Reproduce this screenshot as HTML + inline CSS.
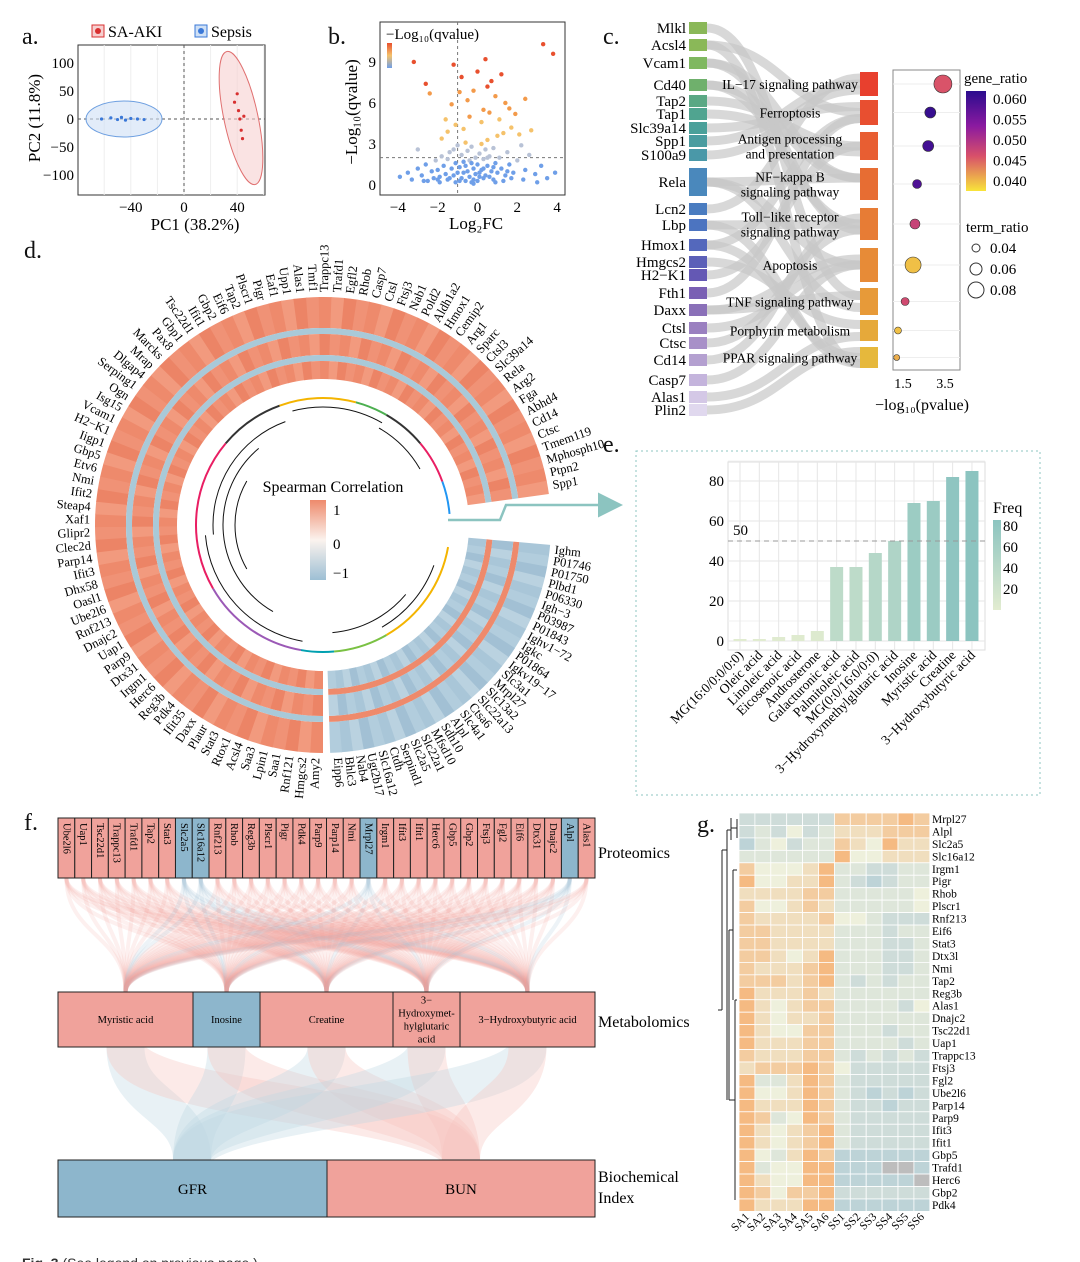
<!DOCTYPE html>
<html><head><meta charset="utf-8"><style>
html,body{margin:0;padding:0;background:#fff;}
svg{display:block;font-family:"Liberation Serif",serif;}
</style></head><body>
<svg id="fig" width="1080" height="1262" viewBox="0 0 1080 1262" xmlns="http://www.w3.org/2000/svg">
<defs>
<linearGradient id="gPlasma" x1="0" y1="0" x2="0" y2="1"><stop offset="0" stop-color="#2b0c8e"/><stop offset="0.35" stop-color="#8b1aa0"/><stop offset="0.65" stop-color="#d8506a"/><stop offset="1" stop-color="#f8e43a"/></linearGradient>
<linearGradient id="gSpear" x1="0" y1="0" x2="0" y2="1"><stop offset="0" stop-color="#ee8a6c"/><stop offset="0.5" stop-color="#fbf3ee"/><stop offset="1" stop-color="#9dbfd4"/></linearGradient>
<linearGradient id="gFreq" x1="0" y1="0" x2="0" y2="1"><stop offset="0" stop-color="#8cc4c0"/><stop offset="1" stop-color="#e2ecd0"/></linearGradient>
<linearGradient id="gQ" x1="0" y1="0" x2="0" y2="1"><stop offset="0" stop-color="#e8502e"/><stop offset="0.5" stop-color="#f5c26b"/><stop offset="1" stop-color="#6f9fe8"/></linearGradient>
<marker id="arrowHead" markerWidth="10" markerHeight="10" refX="8" refY="5" orient="auto"><path d="M0,0 L10,5 L0,10 z" fill="#8cc4c0"/></marker>
</defs>
<g font-size="24" fill="#111">
<text x="22" y="44">a.</text>
<text x="328" y="44">b.</text>
<text x="603" y="44">c.</text>
<text x="24" y="258">d.</text>
<text x="603" y="452">e.</text>
<text x="24" y="830">f.</text>
<text x="697" y="832">g.</text>
</g>
<g id="pa"></g>
<g id="pb"></g>
<g id="pc"></g>
<g id="pd"></g>
<g id="pe"></g>
<g id="pf"></g>
<g id="pg"></g>
<text x="22" y="1268" font-family="Liberation Sans, sans-serif" font-size="14" fill="#333"><tspan font-weight="bold">Fig. 3</tspan> (See legend on previous page.)</text>
</svg>
<script>
const NS='http://www.w3.org/2000/svg';
function mk(tag,parent){const e=document.createElementNS(NS,tag);parent.appendChild(e);return e;}
function at(e,o){for(const k in o)e.setAttribute(k,o[k]);return e;}
function txt(parent,x,y,s,o){const t=mk('text',parent);at(t,Object.assign({x:x,y:y},o||{}));t.textContent=s;return t;}
function lerpC(c1,c2,t){const a=[1,3,5].map(i=>parseInt(c1.substr(i,2),16)),b=[1,3,5].map(i=>parseInt(c2.substr(i,2),16));return 'rgb('+a.map((v,i)=>Math.round(v+(b[i]-v)*t)).join(',')+')';}

/* ===== Panel a: PCA data ===== */
const sepsisPC1=[-62,-55,-50,-47,-44,-40,-35,-30];
const sepsisPC2=[0,2,-1,3,-2,1,0,-1];
const akiPC1=[38,40,41,42,43,44,45];
const akiPC2=[30,45,15,0,-20,-35,5];
const pcaXTicks=[-40,0,40];
const pcaYTicks=[100,50,0,-50,-100];
/* ===== Panel b: volcano data ===== */
const logFC=[-3.9,-3.5,-3.3,-3.0,-2.8,-2.6,-2.5,-2.3,-2.2,-2.1,
-2.0,-1.9,-1.8,-1.7,-1.6,-1.5,-1.5,-1.4,-1.3,-1.2,
-1.2,-1.1,-1.0,-1.0,-0.9,-0.8,-0.8,-0.7,-0.6,-0.6,
-0.5,-0.5,-0.4,-0.4,-0.3,-0.3,-0.2,-0.2,-0.1,-0.1,
0,0,0.1,0.1,0.2,0.2,0.3,0.3,0.4,0.4,
0.5,0.5,0.6,0.6,0.7,0.8,0.8,0.9,1.0,1.0,
1.1,1.2,1.3,1.4,1.5,1.6,1.7,1.8,2.0,2.2,
2.4,2.6,2.9,3.2,3.5,3.9,-1.8,-1.5,-1.1,-0.7,
-0.4,0.2,0.6,1.1,1.6,2.1,-3.0,-1.3,-0.5,0.3,
0.9,1.4,3.3,3.8,-2.6,-0.9,0.5,1.2,-1.2,-0.2,
0.7,0.4,-0.8,1.9,-2.4,2.7,-3.2,-1.6,0.0,2.4,
-1.9,-1.4,-0.9,-0.6,-0.3,0.1,0.5,0.8,1.3,1.7,
-2.7,-2.0,-1.1,-0.7,-0.2,0.3,0.9,1.5,2.3,3.0];
const negLogQ=[0.6,0.9,0.4,1.2,0.7,1.5,0.3,1.0,0.5,1.8,
1.1,0.6,2.1,1.4,0.8,1.9,0.4,2.4,1.2,0.7,
2.6,1.6,0.9,2.9,1.3,0.5,2.2,1.7,0.3,3.1,
1.0,2.5,0.6,1.8,0.2,2.8,1.2,0.4,2.0,0.8,
1.5,0.3,2.3,0.9,1.1,3.0,0.5,1.9,2.6,0.7,
1.4,3.3,0.6,2.1,1.0,2.7,0.4,1.6,3.6,0.9,
2.0,1.2,3.8,0.7,2.4,1.5,4.2,0.9,1.8,2.9,
1.1,2.2,0.8,1.4,0.5,0.9,3.4,3.9,4.4,4.1,
5.0,4.6,5.3,4.8,5.6,3.7,2.6,5.9,6.2,5.5,
6.5,6.0,10.3,9.6,7.4,6.8,7.2,8.1,8.8,6.9,
7.6,9.2,7.9,5.2,6.7,4.0,9.0,4.8,8.3,6.3,
0.2,0.5,0.3,1.4,1.6,0.6,2.0,1.3,0.3,0.5,
0.3,0.4,0.2,0.9,0.1,1.2,0.2,1.0,0.4,0.2];
const volXTicks=[-4,-2,0,2,4];
const volYTicks=[0,3,6,9];
/* ===== Panel c data ===== */
const sankeyGenes=['Mlkl','Acsl4','Vcam1','Cd40','Tap2','Tap1','Slc39a14','Spp1','S100a9','Rela','Lcn2','Lbp','Hmox1','Hmgcs2','H2−K1','Fth1','Daxx','Ctsl','Ctsc','Cd14','Casp7','Alas1','Plin2'];
const geneYc=[28,45,63,85,101,114,128,141,155,182,209,225,245,262,275,293,310,328,343,360,380,397,410];
const pathways=['IL−17 signaling pathway','Ferroptosis','Antigen processing|and presentation','NF−kappa B|signaling pathway','Toll−like receptor|signaling pathway','Apoptosis','TNF signaling pathway','Porphyrin metabolism','PPAR signaling pathway'];
const pathTop=[72,100,132,168,208,248,288,320,347];
const pathBot=[96,125,160,200,240,282,315,341,368];
const linkGene=[0,1,2,3,4,5,6,7,8,9,9,9,10,11,12,13,14,15,16,17,18,19,20,21,22,3,11,2,12,1,16];
const linkPath=[6,1,4,3,2,2,1,0,0,3,5,6,0,4,1,7,2,1,5,5,4,4,5,7,8,4,8,3,8,8,6];
const enrichLogP=[3.4,2.8,2.7,2.17,2.07,1.98,1.6,1.26,1.2];
const geneRatio=[0.046,0.061,0.060,0.059,0.048,0.040,0.047,0.040,0.041];
const termRatio=[0.09,0.055,0.055,0.045,0.05,0.08,0.04,0.035,0.03];
/* ===== Panel d data ===== */
const circOrangeGenes=['Amy2','Hmgcs2','Rnf121','Saa1','Lpin1','Saa3','Acsl4','Rtox1','Stat3','Plaur','Daxx','Ifit35','Pdk4','Reg3b','Herc6','Irgm1','Dtx31','Parp9','Uap1','Dnajc2','Rnf213','Ube2l6','Oasl1','Dhx58','Ifit3','Parp14','Clec2d','Glipr2','Xaf1','Steap4','Ifit2','Nmi','Etv6','Gbp5','Iigp1','H2−K1','Vcam1','Isg15','Ogn','Serping1','Dlgap4','Mrap','Marcks','Pax8','Gbp1','Tsc22d1','Ifit1','Gbp2','Eif6','Tap2','Plscr1','Pigr','Eaf1','Upp1','Alas1','Tmf1','Trappc13','Trafd1','Egfl2','Rhob','Casp7','Ctsl','Ftsj3','Nab1','Pold2','Aldh1a2','Hmox1','Cemip2','Arg1','Sparc','Ctsl3','Slc39a14','Rela','Arg2','Fga','Abhd4','Cd14','Ctsc','Tmem119','Mphosph10','Ptpn2','Spp1'];
const circBlueGenes=['Ighm','P01746','P01750','Plbd1','P06330','Igh−3','P03987','P01843','Ighv1−72','Igkc','P01864','Igkv19−17','Slc3a1','Mrpl27','Slc13a2','Slc22a13','Ctsa6','Slc4a1','Alpl','Sdh10','Mfsd10','Slc22a1','Slc2a5','Serpind1','Ctdh','Slc16a12','Ugt2b17','Nab4','Bhlc3','Eipp6'];
/* ===== Panel e data ===== */
const metabolites=['MG(16:0/0:0/0:0)','Oleic acid','Linoleic acid','Eicosenoic acid','Androsterone','Galacturonic acid','Palmitoleic acid','MG(0:0/16:0/0:0)','3−Hydroxymethylglutaric acid','Inosine','Myristic acid','Creatine','3−Hydroxybutyric acid'];
const freq=[1,1,2,3,5,37,37,44,50,69,70,82,85];
const freqTicks=[0,20,40,60,80];
/* ===== Panel f data ===== */
const proteins=['Ube2l6','Uap1','Tsc22d1','Trappc13','Trafd1','Tap2','Stat3','Slc2a5','Slc16a12','Rnf213','Rhob','Reg3b','Plscr1','Pigr','Pdk4','Parp9','Parp14','Nmi','Mrpl27','Irgm1','Ifit3','Ifit1','Herc6','Gbp5','Gbp2','Ftsj3','Fgl2','Eif6','Dtx31','Dnajc2','Alpl','Alas1'];
const proteinDown=[0,0,0,0,0,0,0,1,1,0,0,0,0,0,0,0,0,0,1,0,0,0,0,0,0,0,0,0,0,0,1,0];
const metabNames=['Myristic acid','Inosine','Creatine','3−|Hydroxymet-|hylglutaric|acid','3−Hydroxybutyric acid'];
const metabX0=[58,193,260,393,460];
const metabX1=[193,260,393,460,595];
const metabDown=[0,1,0,0,0];
/* ===== Panel g data ===== */
const hmGenes=['Mrpl27','Alpl','Slc2a5','Slc16a12','Irgm1','Pigr','Rhob','Plscr1','Rnf213','Eif6','Stat3','Dtx3l','Nmi','Tap2','Reg3b','Alas1','Dnajc2','Tsc22d1','Uap1','Trappc13','Ftsj3','Fgl2','Ube2l6','Parp14','Parp9','Ifit3','Ifit1','Gbp5','Trafd1','Herc6','Gbp2','Pdk4'];
const hmSamples=['SA1','SA2','SA3','SA4','SA5','SA6','SS1','SS2','SS3','SS4','SS5','SS6'];
const hmValues=['333333777787','343534666777','245344765866','444444855666','755568443344','855668432344','666677444445','755676444445','766667554333','776666444344','776666444334','776568444334','766678444334','777678434344','866676444444','865677444435','865667444444','865577444344','866677444434','766677434343','677787533333','844687433333','855687432323','866687433233','874587433333','865678433333','865678433333','854687222222','845588222xx2','86558822222x','875778333333','866688222222'];

const svg=document.getElementById('fig');

/* ---------- Panel a ---------- */
(function(){
const g=document.getElementById('pa');
const xa=v=>184+1.33*v, ya=v=>119-0.56*v;
const box=mk('rect',g);at(box,{x:78,y:45,width:187,height:150,fill:'#fff',stroke:'#333','stroke-width':1});


for(let v=-60;v<=60;v+=20){const l=mk('line',g);at(l,{x1:xa(v),x2:xa(v),y1:45,y2:195,stroke:'#eee'});

}
const d1=mk('line',g);at(d1,{x1:xa(0),x2:xa(0),y1:45,y2:195,stroke:'#555','stroke-dasharray':'3,3'});


const d2=mk('line',g);at(d2,{x1:78,x2:265,y1:ya(0),y2:ya(0),stroke:'#555','stroke-dasharray':'3,3'});


const e1=mk('ellipse',g);at(e1,{cx:124,cy:119,rx:38,ry:18,fill:'#cfe0f5','fill-opacity':0.6,stroke:'#6d9fe0'});


const e2=mk('ellipse',g);at(e2,{cx:241,cy:118,rx:17,ry:68,fill:'#f6d0d0','fill-opacity':0.6,stroke:'#e07070',transform:'rotate(-12 241 118)'});


sepsisPC1.forEach((v,i)=>{const c=mk('circle',g);at(c,{cx:xa(v),cy:ya(sepsisPC2[i]),r:1.6,fill:'#3a78d8'});

});
akiPC1.forEach((v,i)=>{const c=mk('circle',g);at(c,{cx:xa(v),cy:ya(akiPC2[i]),r:1.6,fill:'#d83030'});

});
pcaXTicks.forEach(v=>{const t=txt(g,xa(v),212,String(v).replace('-','−'),{'font-size':15,'text-anchor':'middle'});

});
pcaYTicks.forEach(v=>{const t=txt(g,74,ya(v)+5,String(v).replace('-','−'),{'font-size':15,'text-anchor':'end'});

});
const xt=txt(g,195,230,'PC1 (38.2%)',{'font-size':17,'text-anchor':'middle'});


const yt=txt(g,0,0,'PC2 (11.8%)',{'font-size':17,'text-anchor':'middle',transform:'translate(40 118) rotate(-90)'});


[['SA-AKI',92,'#d83030','#f6d0d0'],['Sepsis',195,'#3a78d8','#cfe0f5']].forEach(a=>{
const r=mk('rect',g);at(r,{x:a[1],y:25,width:12,height:12,fill:a[3],stroke:a[2]});


const c=mk('circle',g);at(c,{cx:a[1]+6,cy:31,r:3,fill:a[2]});


const t=txt(g,a[1]+16,37,a[0],{'font-size':16});

});
})();

/* ---------- Panel b ---------- */
(function(){
const g=document.getElementById('pb');
const xb=v=>477.5+19.9*v, yb=v=>185-13.67*v;
const box=mk('rect',g);at(box,{x:380,y:22,width:185,height:173,fill:'#fff',stroke:'#333'});


const h=mk('line',g);at(h,{x1:380,x2:565,y1:yb(2),y2:yb(2),stroke:'#777','stroke-dasharray':'3,3'});


const v1=mk('line',g);at(v1,{x1:xb(-1),x2:xb(-1),y1:22,y2:195,stroke:'#777','stroke-dasharray':'3,3'});


const col=q=>q<1.8?'#6f9fe8':q<3?'#b8c2d6':q<5?'#f5c26b':q<7?'#f39a4a':'#e8502e';
logFC.forEach((v,i)=>{const c=mk('circle',g);at(c,{cx:xb(v),cy:yb(negLogQ[i]),r:2.2,fill:col(negLogQ[i])});

});
volXTicks.forEach(v=>{const t=txt(g,xb(v),212,String(v).replace('-','−'),{'font-size':15,'text-anchor':'middle'});

});
volYTicks.forEach(v=>{const t=txt(g,376,yb(v)+5,String(v),{'font-size':15,'text-anchor':'end'});

});
const xt=txt(g,476,229,'Log₂FC',{'font-size':17,'text-anchor':'middle'});


const yt=txt(g,0,0,'−Log₁₀(qvalue)',{'font-size':17,'text-anchor':'middle',transform:'translate(357 112) rotate(-90)'});


const lt=txt(g,386,39,'−Log₁₀(qvalue)',{'font-size':15});


const lg=mk('rect',g);at(lg,{x:387,y:43,width:5,height:25,fill:'url(#gQ)'});


})();

/* ---------- Panel c ---------- */
(function(){
const g=document.getElementById('pc');
const geneCols=['#8ab858','#8ab858','#7fb860','#6fb06c','#5aa884','#50a490','#4aa09a','#4a9ca0','#4a98a8','#4a88bc','#4a7cc0','#4c74c0','#5468bc','#5c60b8','#6458b4','#7a60b4','#8a70b8','#9a80c0','#a890c8','#b4a0d0','#c4b4dc','#d4c8e6','#e0d8ee'];
linkGene.forEach((gi,k)=>{const p=linkPath[k];const y1=geneYc[gi],y2=(pathTop[p]+pathBot[p])/2+((k%3)-1)*6;
const pa=mk('path',g);at(pa,{d:`M707,${y1} C780,${y1} 790,${y2} 860,${y2}`,stroke:'#c8c8c8','stroke-width':9,fill:'none','stroke-opacity':0.7});

});
sankeyGenes.forEach((n,i)=>{const hh=n==='Rela'?14:6;
const r=mk('rect',g);at(r,{x:689,y:geneYc[i]-hh,width:18,height:hh*2,fill:geneCols[i]});


const t=txt(g,686,geneYc[i]+5,n,{'font-size':15,'text-anchor':'end'});

});
pathways.forEach((n,i)=>{const c=lerpC('#e8402e','#e6b83c',i/8);
const r=mk('rect',g);at(r,{x:860,y:pathTop[i],width:18,height:pathBot[i]-pathTop[i],fill:c});


const parts=n.split('|');const yc=(pathTop[i]+pathBot[i])/2;
parts.forEach((s,j)=>{const t=txt(g,790,yc+5+(j-(parts.length-1)/2)*15,s,{'font-size':13.5,'text-anchor':'middle'});

});});
const xc=v=>903+21*(v-1.5);
const box=mk('rect',g);at(box,{x:893,y:70,width:67,height:300,fill:'#fff',stroke:'#888'});


const dotY=pathTop.map((t,i)=>(t+pathBot[i])/2);
dotY.forEach(y=>{const l=mk('line',g);at(l,{x1:893,x2:960,y1:y,y2:y,stroke:'#eee'});

});
const pl=t=>t<0.33?lerpC('#2b0c8e','#8b1aa0',t/0.33):t<0.66?lerpC('#8b1aa0','#d8506a',(t-0.33)/0.33):lerpC('#d8506a','#f8e43a',(t-0.66)/0.34);
enrichLogP.forEach((v,i)=>{const c=mk('circle',g);at(c,{cx:xc(v),cy:dotY[i],r:termRatio[i]*100,fill:pl(1-(geneRatio[i]-0.038)/0.024),stroke:'#333','stroke-width':0.6});

});
[1.5,3.5].forEach(v=>{const t=txt(g,xc(v),388,String(v),{'font-size':14,'text-anchor':'middle'});

});
const xt=txt(g,922,410,'−log₁₀(pvalue)',{'font-size':16,'text-anchor':'middle'});


const lt=txt(g,964,83,'gene_ratio',{'font-size':15});


const gr=mk('rect',g);at(gr,{x:966,y:91,width:20,height:100,fill:'url(#gPlasma)'});


['0.060','0.055','0.050','0.045','0.040'].forEach((s,i)=>{const t=txt(g,993,104+i*20.5,s,{'font-size':15});

});
const tt=txt(g,966,232,'term_ratio',{'font-size':15});


[['0.04',4],['0.06',6],['0.08',8]].forEach((a,i)=>{const c=mk('circle',g);at(c,{cx:976,cy:248+i*21,r:a[1],fill:'#fff',stroke:'#333'});


const t=txt(g,990,253+i*21,a[0],{'font-size':15});

});
})();

/* ---------- Panel d ---------- */
(function(){
const g=document.getElementById('pd');
const cx=323,cy=525;
const P=(r,a)=>[cx+r*Math.cos(a*Math.PI/180),cy+r*Math.sin(a*Math.PI/180)];
function sector(r1,r2,a1,a2){const [x1,y1]=P(r2,a1),[x2,y2]=P(r2,a2),[x3,y3]=P(r1,a2),[x4,y4]=P(r1,a1);const lg=(a2-a1)>180?1:0;
return `M${x1},${y1} A${r2},${r2} 0 ${lg} 1 ${x2},${y2} L${x3},${y3} A${r1},${r1} 0 ${lg} 0 ${x4},${y4} Z`;}
const rings=[[197,228],[191,197],[170,191],[164,170],[146,164]];
const oA0=90,oA1=352,bA0=5,bA1=88;
const nO=circOrangeGenes.length,nB=circBlueGenes.length;
const shadeO=['#ee8a6c','#f09276','#ec8466','#f29a7e'],shadeB=['#a9c6d8','#b2cddd','#a2c0d4','#bad2e0'];
rings.forEach((rr,ri)=>{const sep=ri%2===1;
for(let i=0;i<nO;i++){const a1=oA0+(oA1-oA0)*i/nO,a2=oA0+(oA1-oA0)*(i+1)/nO;
const p=mk('path',g);at(p,{d:sector(rr[0],rr[1],a1,a2+0.2),fill:sep?'#a9c9d8':shadeO[(i*7+ri*3)%4]});

}
for(let i=0;i<nB;i++){const a1=bA0+(bA1-bA0)*i/nB,a2=bA0+(bA1-bA0)*(i+1)/nB;
const p=mk('path',g);at(p,{d:sector(rr[0],rr[1],a1,a2+0.2),fill:sep?'#ee8a6c':shadeB[(i*5+ri*3)%4]});

}});
circOrangeGenes.forEach((n,i)=>{const a=oA0+(oA1-oA0)*(i+0.5)/nO;
const [x,y]=P(233,a);const right=Math.cos(a*Math.PI/180)>0;
const t=txt(g,x,y,n,{'font-size':12.5,'text-anchor':right?'start':'end','dominant-baseline':'middle',transform:`rotate(${right?a:a+180} ${x} ${y})`});

});
circBlueGenes.forEach((n,i)=>{const a=bA0+(bA1-bA0)*(i+0.5)/nB;
const [x,y]=P(233,a);
const t=txt(g,x,y,n,{'font-size':12.5,'text-anchor':'start','dominant-baseline':'middle',transform:`rotate(${a} ${x} ${y})`});

});
const cols=['#f4b400','#7ac143','#00a0b0','#9b59b6','#e91e63','#333','#f4b400','#4caf50','#333','#e91e63','#2196f3'];
const arcsCol=[[10,60],[60,85],[85,100],[100,150],[150,220],[220,250],[250,285],[285,300],[300,320],[320,340],[340,355]];
arcsCol.forEach((a,i)=>{const [x1,y1]=P(127,a[0]),[x2,y2]=P(127,a[1]);const p=mk('path',g);
at(p,{d:`M${x1},${y1} A127,127 0 0 1 ${x2},${y2}`,stroke:cols[i],'stroke-width':2,fill:'none'});

});
[[118,100,175],[110,175,250],[100,120,230],[88,150,210],[118,255,300],[112,300,330],[118,20,60],[108,40,85]].forEach(a=>{
const [x1,y1]=P(a[0],a[1]),[x2,y2]=P(a[0],a[2]);const p=mk('path',g);
at(p,{d:`M${x1},${y1} A${a[0]},${a[0]} 0 0 1 ${x2},${y2}`,stroke:'#111','stroke-width':1,fill:'none'});

});
const lt=txt(g,333,492,'Spearman Correlation',{'font-size':16,'text-anchor':'middle'});


const lb=mk('rect',g);at(lb,{x:310,y:500,width:16,height:80,fill:'url(#gSpear)'});


[['1',515],['0',549],['−1',578]].forEach(a=>{const t=txt(g,333,a[1],a[0],{'font-size':15});

});
const ar=mk('path',g);at(ar,{d:'M448,520 L500,520 L506,505 L618,505',stroke:'#8cc4c0','stroke-width':2.5,fill:'none','marker-end':'url(#arrowHead)'});


})();

/* ---------- Panel e ---------- */
(function(){
const g=document.getElementById('pe');
const fb=mk('rect',g);at(fb,{x:636,y:451,width:404,height:344,fill:'none',stroke:'#8cc4c0','stroke-dasharray':'2,3'});


const xe=i=>740+19.33*i, ye=v=>641-2*v;
const pb=mk('rect',g);at(pb,{x:728,y:462,width:257,height:188,fill:'#fff',stroke:'#ddd'});


for(let v=0;v<=90;v+=10){const l=mk('line',g);at(l,{x1:728,x2:985,y1:ye(v),y2:ye(v),stroke:v%20?'#f2f2f2':'#e6e6e6'});

}
metabolites.forEach((m,i)=>{const l=mk('line',g);at(l,{x1:xe(i),x2:xe(i),y1:462,y2:650,stroke:'#e6e6e6'});

});
freq.forEach((v,i)=>{const b=mk('rect',g);at(b,{x:xe(i)-6.5,y:ye(v),width:13,height:2*v,fill:lerpC('#e2ecd0','#8cc4c0',v/85)});


const t=txt(g,xe(i)+4,656,metabolites[i],{'font-size':13.5,'text-anchor':'end',transform:`rotate(-45 ${xe(i)+4} 656)`});

});
const dl=mk('line',g);at(dl,{x1:728,x2:985,y1:ye(50),y2:ye(50),stroke:'#999','stroke-dasharray':'5,4'});


const dt=txt(g,733,535,'50',{'font-size':15});


freqTicks.forEach(v=>{const t=txt(g,724,ye(v)+5,String(v),{'font-size':15,'text-anchor':'end'});

});
const ft=txt(g,993,513,'Freq',{'font-size':16});


const fg=mk('rect',g);at(fg,{x:993,y:520,width:8,height:90,fill:'url(#gFreq)'});


[['80',531],['60',552],['40',573],['20',594]].forEach(a=>{const t=txt(g,1003,a[1],a[0],{'font-size':15});

});
})();

/* ---------- Panel f ---------- */
(function(){
const g=document.getElementById('pf');
const pw=537/proteins.length;const pinkC='#f0a29b',blueC='#8db6cc';
const mC=i=>(metabX0[i]+metabX1[i])/2;
proteins.forEach((p,i)=>{const px=58+pw*(i+0.5);
metabNames.forEach((m,j)=>{const pa=mk('path',g);
at(pa,{d:`M${px},878 C${px},935 ${mC(j)},935 ${mC(j)},992`,stroke:proteinDown[i]?blueC:pinkC,'stroke-width':4,fill:'none','stroke-opacity':0.16});

});});
metabNames.forEach((m,j)=>{[[192,1],[461,0]].forEach(b=>{const pa=mk('path',g);
at(pa,{d:`M${mC(j)},1047 C${mC(j)},1105 ${b[0]},1105 ${b[0]},1160`,stroke:b[1]?'#bcd6e2':'#f6c4bc','stroke-width':38,fill:'none','stroke-opacity':0.35});

});});
proteins.forEach((p,i)=>{const x=58+pw*i;const r=mk('rect',g);
at(r,{x:x,y:818,width:pw,height:60,fill:proteinDown[i]?blueC:pinkC,stroke:'#222','stroke-width':1});


const t=txt(g,x+pw/2-3,823,p,{'font-size':10.5,transform:`rotate(90 ${x+pw/2-3} 823)`});

});
metabNames.forEach((m,j)=>{const r=mk('rect',g);
at(r,{x:metabX0[j],y:992,width:metabX1[j]-metabX0[j],height:55,fill:metabDown[j]?blueC:pinkC,stroke:'#222'});


const parts=m.split('|');parts.forEach((s,k)=>{const t=txt(g,mC(j),1023+(k-(parts.length-1)/2)*13,s,{'font-size':10.5,'text-anchor':'middle'});

});});
[['GFR',58,327,blueC],['BUN',327,595,pinkC]].forEach(a=>{const r=mk('rect',g);
at(r,{x:a[1],y:1160,width:a[2]-a[1],height:57,fill:a[3],stroke:'#222'});


const t=txt(g,(a[1]+a[2])/2,1194,a[0],{'font-size':15,'text-anchor':'middle'});

});
[['Proteomics',858],['Metabolomics',1027],['Biochemical',1182],['Index',1203]].forEach(a=>{const t=txt(g,598,a[1],a[0],{'font-size':16});

});
})();

/* ---------- Panel g ---------- */
(function(){
const g=document.getElementById('pg');
const x0=739,cw=15.9,y0=813,rh=12.45;
const cmap=d=>{if(d==='x')return '#bdbdbd';const v=+d;return v<=5?lerpC('#9dbfd4','#eef0dc',v/5):lerpC('#eef0dc','#f7a864',(v-5)/4);};
hmValues.forEach((row,r)=>{for(let c=0;c<12;c++){const rc=mk('rect',g);
at(rc,{x:x0+c*cw,y:y0+r*rh,width:cw,height:rh,fill:cmap(row[c]),stroke:'#fff','stroke-width':0.8});

}
const t=txt(g,932,y0+r*rh+rh-2.5,hmGenes[r],{'font-size':11.5});

});
hmSamples.forEach((s,c)=>{const x=x0+c*cw+cw/2+3,y=y0+hmValues.length*rh+6;
const t=txt(g,x,y,s,{'font-size':11.5,'text-anchor':'end',transform:`rotate(-45 ${x} ${y})`});

});
const dend=[[737,819,737,838],[731,828,737,828],[731,818,731,840],[727,830,731,830],[727,830,727,1100],[733,870,737,870],[733,870,733,1000],[729,930,733,930],[735,1000,737,1000],[735,1000,735,1200],[729,1100,735,1100],[729,930,729,1100],[722,850,727,850],[722,850,722,1010],[718,1010,722,1010]];
dend.forEach(d=>{const l=mk('line',g);at(l,{x1:d[0],y1:d[1],x2:d[2],y2:d[3],stroke:'#222','stroke-width':1});

});
})();
</script>
</body></html>
